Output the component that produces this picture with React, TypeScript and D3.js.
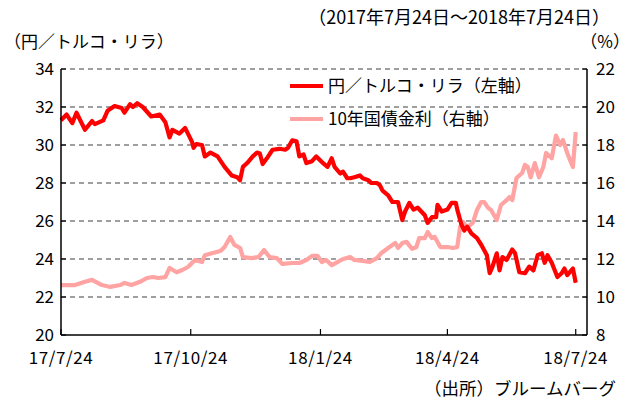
import * as d3 from "d3";

// days since 2017-07-24
const tryDays = [0,4,8,11,17,22,24,30,33,38,43,45,49,51,54,58,64,70,74,77,79,84,88,93,94,96,100,102,104,106,111,116,121,125,127,129,132,136,139,141,143,146,150,155,159,161,164,167,169,172,174,178,181,185,189,192,194,198,200,203,205,208,212,214,218,220,224,226,228,232,235,239,242,244,247,250,253,258,260,263,266,267,270,274,277,280,281,284,286,288,291,295,298,302,304,306,309,311,313,316,320,322,325,329,332,335,338,341,343,345,348,352,355,357,359,363,365];
const tryValues = [31.3,31.6,31.15,31.7,30.8,31.26,31.1,31.3,31.8,32.05,31.95,31.7,32.15,32.0,32.2,32.0,31.5,31.6,31.2,30.4,30.8,30.6,30.9,30.15,29.85,30.05,30.0,29.4,29.5,29.6,29.4,28.85,28.4,28.3,28.15,28.85,29.05,29.4,29.6,29.55,29.0,29.3,29.75,29.8,29.75,29.85,30.25,30.2,29.4,29.5,29.05,29.15,29.4,29.1,28.85,29.3,28.85,28.5,28.6,28.25,28.25,28.3,28.4,28.25,28.15,28.0,28.0,27.9,27.6,27.35,27.0,27.0,26.05,26.5,26.95,26.6,26.7,26.3,25.9,26.2,26.2,26.85,26.5,26.6,26.95,26.95,26.6,25.8,25.5,25.7,25.35,25.1,24.75,24.2,23.25,23.6,24.3,23.4,24.1,23.95,24.5,24.3,23.3,23.25,23.6,23.4,24.2,24.3,23.8,24.2,23.8,23.05,23.25,23.5,23.15,23.5,22.75];

const rateDays = [0,10,17,22,29,35,42,45,50,56,61,65,69,74,77,82,86,90,95,100,102,107,113,116,120,123,127,129,135,140,144,148,153,157,164,169,174,178,182,185,188,192,196,200,205,208,214,219,224,227,232,237,239,242,245,249,252,254,258,260,263,265,269,274,278,281,283,285,288,292,295,298,300,303,305,309,312,316,318,320,323,327,329,331,333,336,339,342,344,348,351,354,356,359,361,363,365];
const rateValues = [10.63,10.63,10.8,10.9,10.63,10.53,10.63,10.74,10.63,10.8,11.0,11.05,11.0,11.05,11.53,11.3,11.42,11.58,11.95,11.84,12.2,12.3,12.42,12.63,13.16,12.74,12.58,12.1,12.05,12.1,12.47,12.1,12.05,11.74,11.79,11.79,11.95,12.16,12.16,11.84,11.95,11.68,11.84,12.0,12.1,11.95,11.9,11.84,12.05,12.3,12.58,12.84,12.58,12.84,12.9,12.53,12.63,13.1,13.1,13.42,13.1,13.16,12.63,12.63,12.58,12.63,13.68,13.95,13.68,13.9,14.58,15.0,15.0,14.68,14.58,14.05,14.84,15.1,15.26,15.1,16.26,16.53,16.95,16.84,16.3,17.05,16.3,16.84,17.58,17.3,18.5,18.0,18.26,17.58,17.2,16.84,18.68];

const leftTicks = [20, 22, 24, 26, 28, 30, 32, 34];
const rightTicks = [8, 10, 12, 14, 16, 18, 20, 22];
const xTickDates = ["2017-07-24", "2017-10-24", "2018-01-24", "2018-04-24", "2018-07-24"];
const seriesNames = ["円／トルコ・リラ（左軸）", "10年国債金利（右軸）"];

const FONT = "'Noto Sans CJK JP', 'Noto Sans', sans-serif";
const RED = "#ff0000";
const PINK = "#ffa3a3";

const start = new Date(2017, 6, 24);
const toDate = (d: number) => d3.timeDay.offset(start, d);

export default function App() {
  const left = 61, right = 587, top = 69, bottom = 335;
  const x = d3.scaleTime().domain([start, new Date(2018, 7, 1)]).range([left, right]);
  const yL = d3.scaleLinear().domain([20, 34]).range([bottom, top]);
  const yR = d3.scaleLinear().domain([8, 22]).range([bottom, top]);

  const redLine = d3.line<number>().x((_, i) => x(toDate(tryDays[i]))).y((v) => yL(v));
  const pinkLine = d3.line<number>().x((_, i) => x(toDate(rateDays[i]))).y((v) => yR(v));
  const fmt = (s: string) => {
    const d = d3.timeParse("%Y-%m-%d")(s)!;
    return `${d3.timeFormat("%y")(d)}/${d.getMonth() + 1}/${d.getDate()}`;
  };

  return (
    <svg width={640} height={400} style={{ position: "absolute", left: 0, top: 0, background: "#fff" }} fontFamily={FONT}>
      <text x={610} y={24} fontSize={18} textAnchor="end">（2017年7月24日～2018年7月24日）</text>
      <text x={4} y={48} fontSize={17}>（円／トルコ・リラ）</text>
      <text x={630} y={48} fontSize={17} textAnchor="end">（%）</text>

      {leftTicks.filter((t) => t > 20).map((t) => (
        <line key={t} x1={left} x2={right} y1={yL(t)} y2={yL(t)} stroke="#808080" strokeWidth={1.3} strokeDasharray="5,4" />
      ))}

      <path d={pinkLine(rateValues) ?? ""} fill="none" stroke={PINK} strokeWidth={4.2} strokeLinejoin="round" />
      <path d={redLine(tryValues) ?? ""} fill="none" stroke={RED} strokeWidth={4.2} strokeLinejoin="round" />

      <line x1={left} x2={left} y1={top} y2={bottom} stroke="#000" strokeWidth={1.5} />
      <line x1={right} x2={right} y1={top} y2={bottom} stroke="#000" strokeWidth={1.5} />
      <line x1={left} x2={right} y1={bottom} y2={bottom} stroke="#000" strokeWidth={1.5} />

      {leftTicks.map((t) => (
        <g key={"l" + t}>
          <line x1={left} x2={left + 5} y1={yL(t)} y2={yL(t)} stroke="#000" strokeWidth={1.2} />
          <text x={54} y={yL(t)} dy="0.35em" fontSize={17} textAnchor="end">{t}</text>
        </g>
      ))}
      {rightTicks.map((t) => (
        <g key={"r" + t}>
          <line x1={right - 5} x2={right} y1={yR(t)} y2={yR(t)} stroke="#000" strokeWidth={1.2} />
          <text x={596} y={yR(t)} dy="0.35em" fontSize={17}>{t}</text>
        </g>
      ))}
      {xTickDates.map((s) => {
        const px = x(d3.timeParse("%Y-%m-%d")(s)!);
        return (
          <g key={s}>
            <line x1={px} x2={px} y1={bottom} y2={bottom - 6} stroke="#000" strokeWidth={1.2} />
            <text x={px} y={364} fontSize={17} letterSpacing={0.6} textAnchor="middle">{fmt(s)}</text>
          </g>
        );
      })}

      <line x1={290} x2={323} y1={86} y2={86} stroke={RED} strokeWidth={4.2} />
      <text x={328} y={86} dy="0.35em" fontSize={17}>{seriesNames[0]}</text>
      <line x1={290} x2={323} y1={119} y2={119} stroke={PINK} strokeWidth={4.2} />
      <text x={328} y={119} dy="0.35em" fontSize={17}>{seriesNames[1]}</text>

      <text x={616} y={395} fontSize={17.5} textAnchor="end">（出所）ブルームバーグ</text>
    </svg>
  );
}
